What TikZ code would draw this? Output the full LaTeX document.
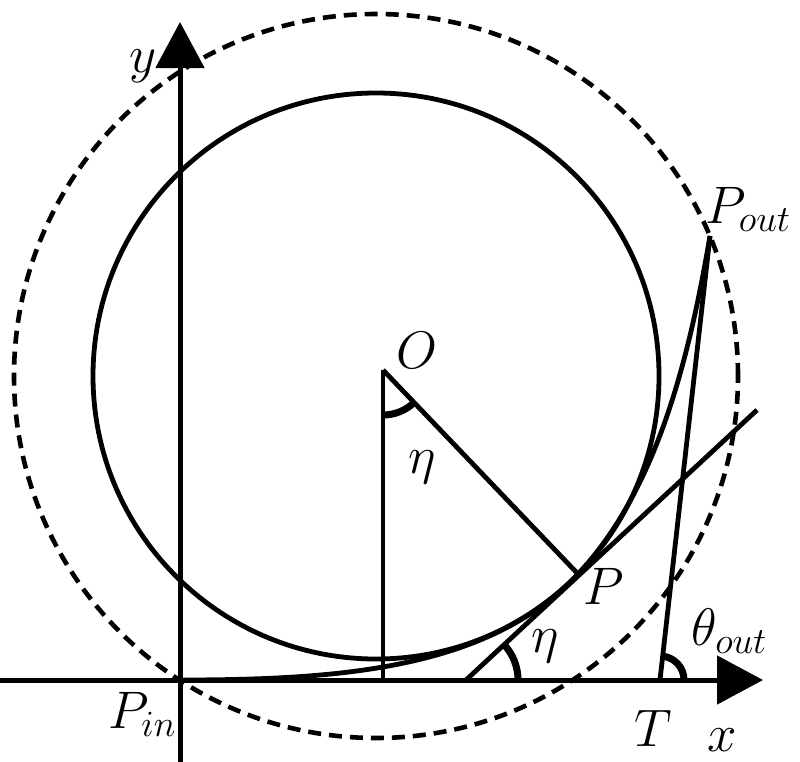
\RequirePackage{fix-cm}
\documentclass[tikz,border=0pt]{standalone}
\usepackage{amsmath,amssymb}
\usetikzlibrary{arrows.meta,angles}

\begin{document}
\begin{tikzpicture}[
  lbl/.style={inner sep=0pt,font=\fontsize{53}{63}\selectfont},
  axis/.style={line width=5bp,-{Triangle[length=46bp,width=48bp]}},
  ln/.style={line width=4.8bp},
  dash circ/.style={line width=4.6bp,dash pattern=on 13bp off 8bp},
  ang/.style={draw,line width=7bp}
]
\useasboundingbox (0bp,0bp) rectangle (800bp,-762bp);

% points
\coordinate (C) at (376bp,-376bp);
\coordinate (O) at (383bp,-370bp);
\coordinate (Ofoot) at (383bp,-680bp);
\coordinate (Pin) at (180bp,-680bp);
\coordinate (P) at (578bp,-574bp);
\coordinate (Pout) at (710bp,-236bp);
\coordinate (T) at (660bp,-680bp);
\coordinate (A) at (466bp,-680bp);
\coordinate (tanEnd) at (757bp,-410bp);
\coordinate (xstart) at (0bp,-680bp);
\coordinate (xend) at (763bp,-680bp);
\coordinate (ystart) at (180bp,-762bp);
\coordinate (yend) at (180bp,-22bp);

% circles
\draw [dash circ] (C) circle[radius=362bp];
\draw [ln] (C) circle[radius=283bp];

% axes
\draw [axis] (xstart) -- (xend);
\draw [axis] (ystart) -- (yend);

% lines
\draw [ln] (O) -- (Ofoot);
\draw [ln] (O) -- (P);
\draw [ln] (A) -- (tanEnd);
\draw [ln] (T) -- (Pout);
\draw [ln] (Pin) .. controls (340bp,-680bp) and (489bp,-669bp) .. (P)
  .. controls (655bp,-492bp) and (688bp,-365bp) .. (Pout);

% angles
\pic [ang,angle radius=45bp] {angle=Ofoot--O--P};
\pic [ang,angle radius=52bp] {angle=T--A--tanEnd};
\pic [ang,angle radius=24bp] {angle=xend--T--Pout};

% labels
\node (ly) at (143bp,-66bp)[lbl] {$y$};
\node (lx) at (722bp,-740bp)[lbl] {$x$};
\node (lO) at (417bp,-350bp)[lbl] {$O$};
\node (leta1) at (422bp,-467bp)[lbl] {$\eta$};
\node (lP) at (604bp,-586bp)[lbl] {$P$};
\node (leta2) at (545bp,-646bp)[lbl] {$\eta$};
\node (lth) at (729bp,-631bp)[lbl] {$\theta_{out}$};
\node (lT) at (653bp,-728bp)[lbl] {$T$};
\node (lPin) at (142bp,-714bp)[lbl] {$P_{in}$};
\node (lPout) at (748bp,-209bp)[lbl] {$P_{out}$};
\end{tikzpicture}
\end{document}
